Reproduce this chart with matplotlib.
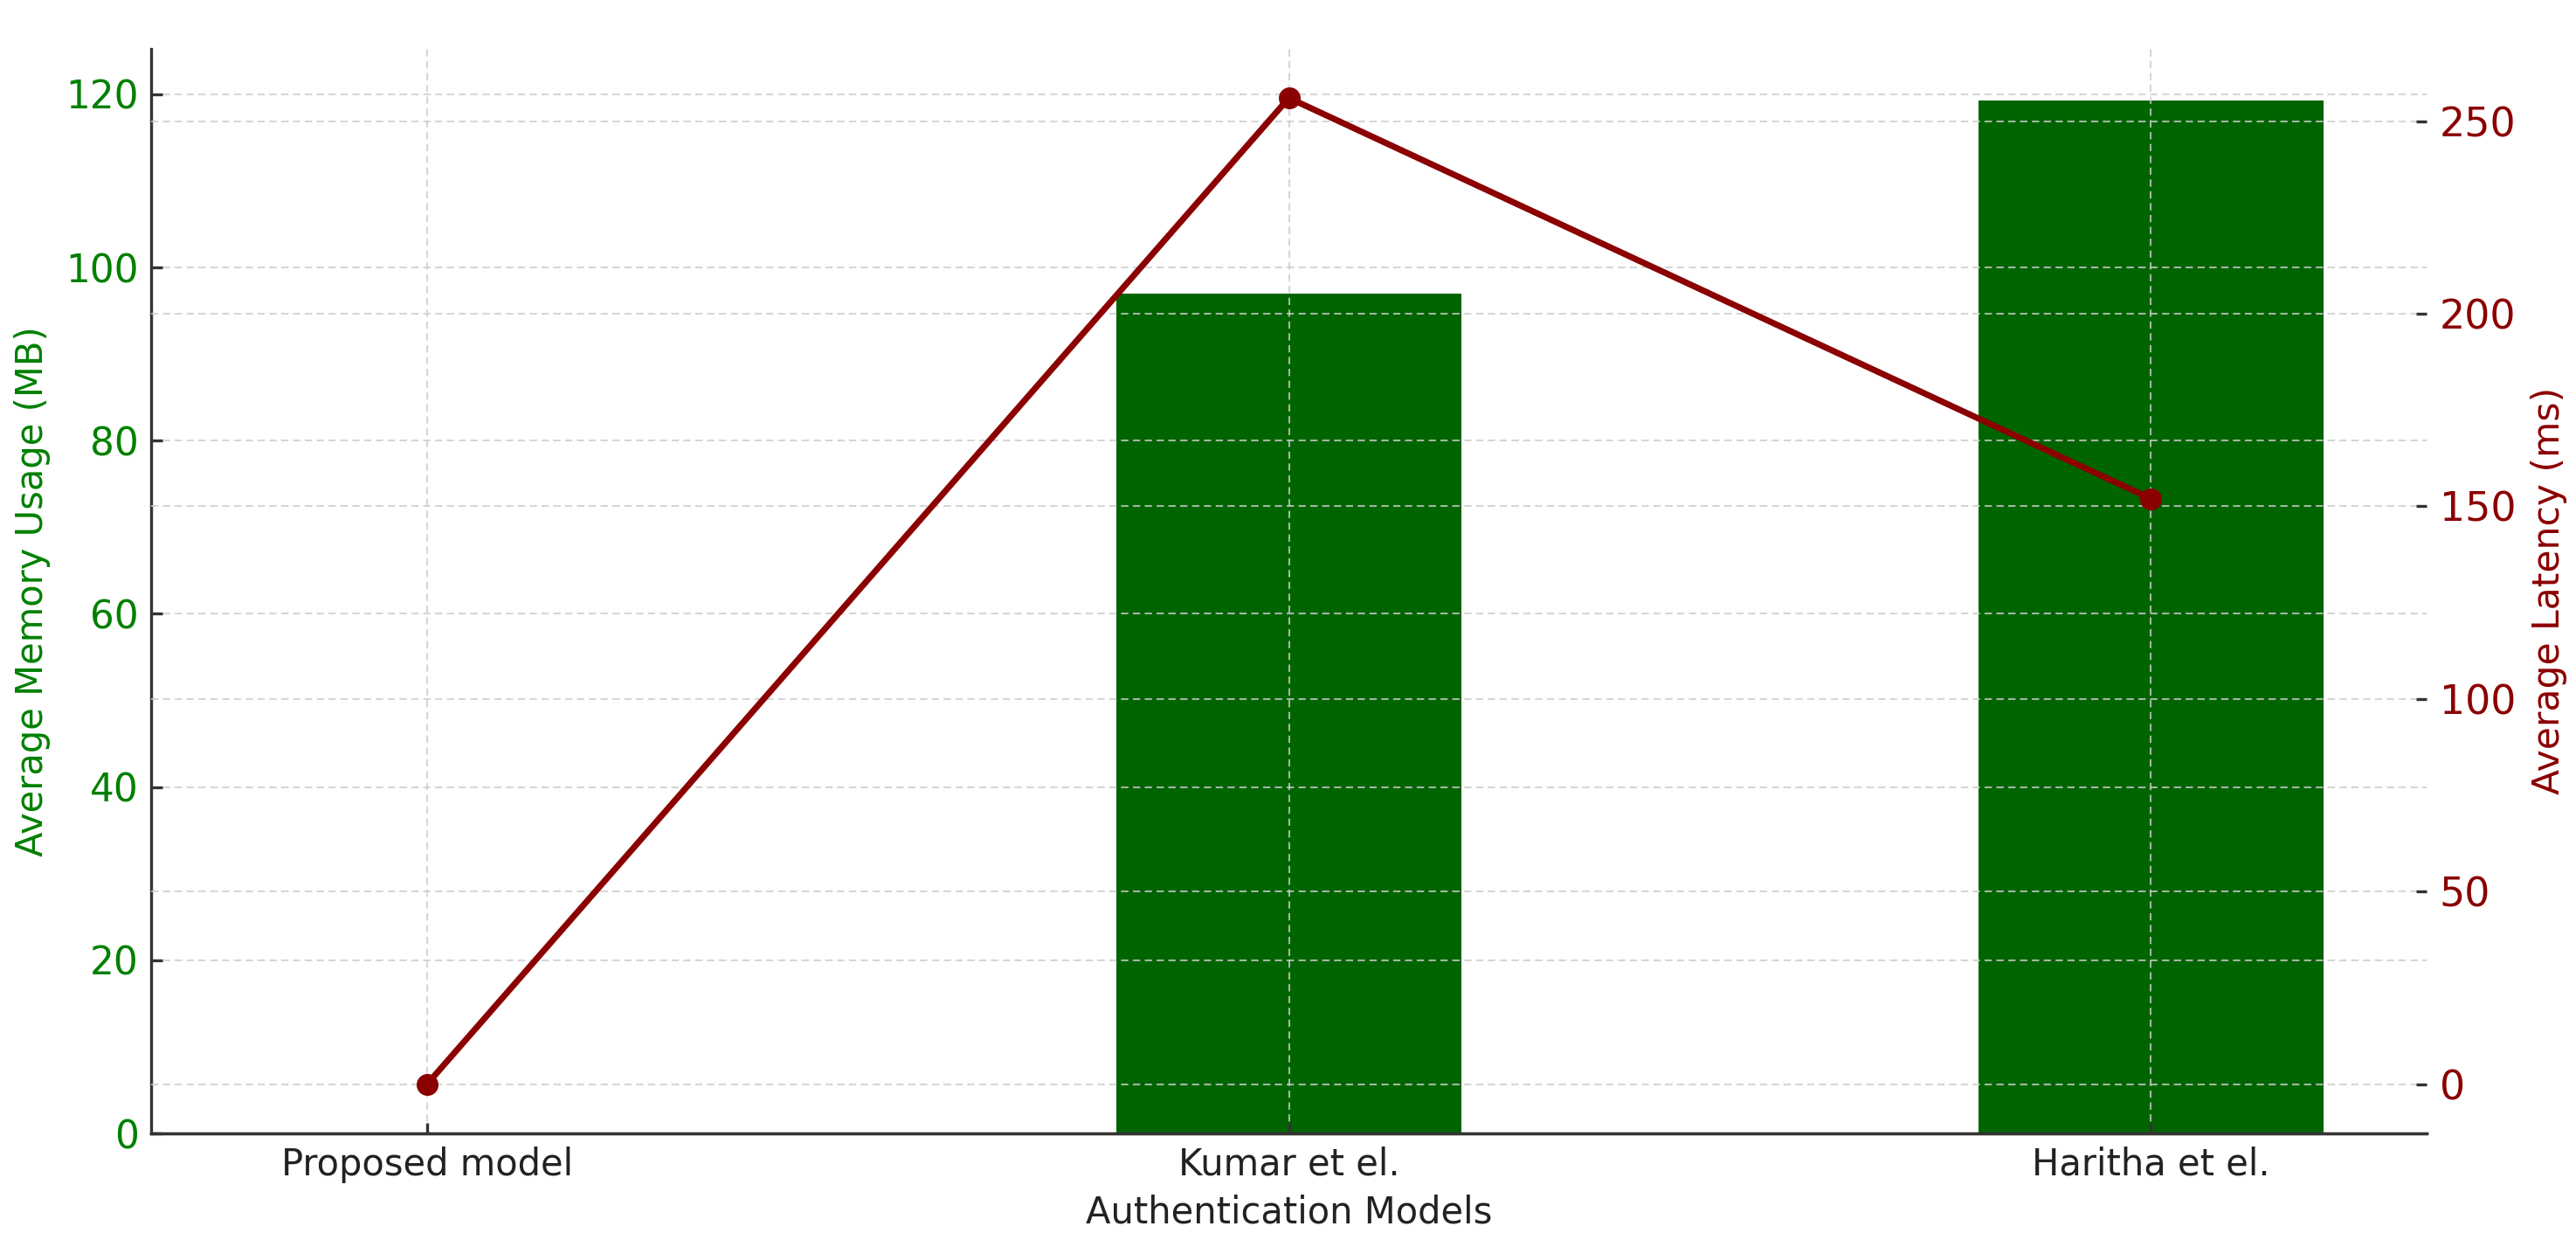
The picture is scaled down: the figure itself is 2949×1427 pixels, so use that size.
import matplotlib.pyplot as plt
import numpy as np

# data
models = ["Proposed model", "Kumar et el.", "Haritha et el."]
memory_mb = [0, 97, 119.3]        # bars, left axis
latency_ms = [0, 256, 152]        # line, right axis

bar_color = "#006400"
line_color = "#8B0000"

fig, ax1 = plt.subplots(figsize=(2949 / 300, 1427 / 300), dpi=300)
fig.subplots_adjust(left=0.0587, right=0.942, bottom=0.091, top=0.961)

x = np.arange(len(models))
ax1.bar(x, memory_mb, width=0.4, color=bar_color)
ax1.set_ylabel("Average Memory Usage (MB)", color="green", fontsize=10)
ax1.set_xlabel("Authentication Models", fontsize=10, color="#222222", labelpad=3)
ax1.set_xticks(x)
ax1.set_xticklabels(models, fontsize=10, color="#222222")
ax1.tick_params(axis="y", labelcolor="green", labelsize=10.5)
ax1.tick_params(direction="in", length=3, width=0.8, color="#333333")
ax1.grid(True, linestyle=(0, (4, 2.5)), color="#cccccc", alpha=0.8, linewidth=0.5)

ax2 = ax1.twinx()
ax2.plot(x, latency_ms, color=line_color, marker="o", linewidth=1.7, markersize=5)
ax2.set_ylabel("Average Latency (ms)", color=line_color, fontsize=10.2)
ax2.tick_params(axis="y", labelcolor=line_color, labelsize=11)
ax2.tick_params(direction="in", length=3, width=0.8, color="#333333")
ax2.grid(True, axis="y", linestyle=(0, (4, 2.5)), color="#cccccc", alpha=0.8, linewidth=0.5)

for ax in (ax1, ax2):
    ax.spines["top"].set_visible(False)
    ax.spines["right"].set_visible(False)
    for s in ax.spines.values():
        s.set_color("#333333")
ax2.spines["left"].set_visible(False)

fig.savefig("out.png", dpi=300)
